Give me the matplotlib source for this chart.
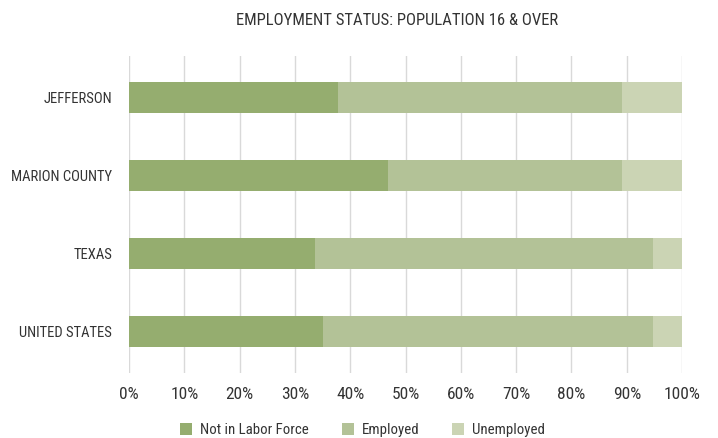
import matplotlib
matplotlib.use("Agg")
import matplotlib.pyplot as plt
from matplotlib.ticker import FuncFormatter, MultipleLocator

plt.rcParams['font.family'] = ['Roboto Condensed', 'DejaVu Sans']

# Share of population 16 & over by employment status (percent)
areas = ["JEFFERSON", "MARION COUNTY", "TEXAS", "UNITED STATES"]
not_in_labor_force = [37.7, 46.9, 33.7, 35.1]
employed = [51.4, 42.2, 61.0, 59.6]
unemployed = [10.9, 10.9, 5.3, 5.3]
series_names = ["Not in Labor Force", "Employed", "Unemployed"]
colors = ["#95ad6f", "#b3c297", "#cbd4b4"]

fig = plt.figure(figsize=(7.18, 4.38), dpi=100)
ax = fig.add_axes([0.1797, 0.1484, 0.7703, 0.7237])

ypos = list(range(len(areas)))
left = [0.0] * len(areas)
for name, vals, col in zip(series_names, [not_in_labor_force, employed, unemployed], colors):
    ax.barh(ypos, vals, left=left, height=0.4, color=col, label=name, zorder=3)
    left = [l + v for l, v in zip(left, vals)]

ax.set_xlim(0, 100)
ax.set_ylim(len(areas) - 0.47, -0.53)
ax.set_yticks(ypos)
ax.set_yticklabels(areas)
ax.xaxis.set_major_locator(MultipleLocator(10))
ax.xaxis.set_major_formatter(FuncFormatter(lambda v, p: f"{int(round(v))}%"))
ax.grid(axis="x", color="#d9d9d9", linewidth=1, zorder=0)
ax.set_axisbelow(True)
for s in ax.spines.values():
    s.set_visible(False)
ax.tick_params(axis="both", length=0, colors="#333333")
ax.tick_params(axis="x", pad=10, labelsize=12.5)
ax.tick_params(axis="y", pad=12, labelsize=10.5)

fig.text(0.553, 0.953, "EMPLOYMENT STATUS: POPULATION 16 & OVER", ha="center", va="center",
         fontsize=12, color="#333333")

leg = fig.legend(loc="center", bbox_to_anchor=(0.505, 0.018), ncol=3, frameon=False,
                 fontsize=10.7, handlelength=0.8, handleheight=0.8, handletextpad=0.55,
                 columnspacing=2.2)
for t in leg.get_texts():
    t.set_color("#333333")

fig.savefig("out.png", dpi=100)
